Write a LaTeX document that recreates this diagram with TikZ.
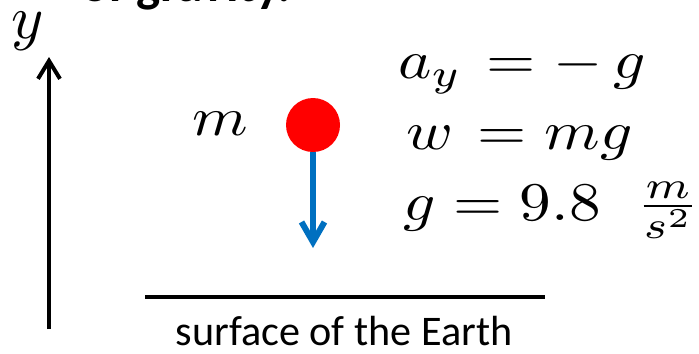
\documentclass[tikz,border=0pt]{standalone}
\usepackage{amsmath}
\usepackage{fontspec}
\newfontfamily\calibri{Carlito}
\usetikzlibrary{arrows.meta,positioning}

\begin{document}
\begin{tikzpicture}[
    every node/.style={inner sep=0pt},
    mth/.style={xscale=3.6, yscale=3.1, anchor=base west},
    big/.style={scale=3.5, anchor=base},
    ball/.style={circle, fill=red, minimum size=1.08cm},
    ax/.style={line width=0.08cm, -{Straight Barb[length=0.36cm, width=0.44cm]}},
    wt/.style={line width=0.12cm, draw={rgb,255:red,0;green,112;blue,192},
               -{Straight Barb[length=0.4cm, width=0.46cm]}},
    gnd/.style={line width=0.08cm},
    surftxt/.style={font=\calibri\fontsize{24}{28}\selectfont, anchor=base},
    ttl/.style={font=\calibri\bfseries\fontsize{29}{34}\selectfont, anchor=base west},
  ]
  \clip (0,0) rectangle (13.98,7.06);
  \useasboundingbox (0,0) rectangle (13.98,7.06);
  % partly cut heading
  \node[ttl] (head) at (1.62, 7.04) {of gravity.};
  % vertical axis
  \node[big] (ylbl) at (0.56, 6.30) {$y$};
  \coordinate (axbot) at (0.98, 0.48);
  \coordinate (axtop) at (0.98, 5.92);
  \draw[ax] (axbot) -- (axtop);
  % mass and its weight
  \node[xscale=3.6, yscale=3.1, anchor=base] (mlbl) at (4.40, 4.36) {$m$};
  \node[ball] (ball) at (6.26, 4.56) {};
  \coordinate (wtip) at (6.26, 2.10);
  \draw[wt] (ball.south) -- (wtip);
  % equations
  \node[mth] (ay) at (7.94, 5.50) {$a_y\mskip2mu = -\,g$};
  \node[mth] (w) at (8.10, 4.08) {$w\mskip2mu = mg$};
  \node[mth] (g) at (8.04, 2.66) {$g = 9.8\;\;\frac{m}{s^2}$};
  % ground
  \coordinate (gl) at (2.90, 1.12);
  \coordinate (gr) at (10.90, 1.12);
  \draw[gnd] (gl) -- (gr);
  \node[surftxt] (surf) at (6.88, 0.16) {surface of the Earth};
\end{tikzpicture}
\end{document}
